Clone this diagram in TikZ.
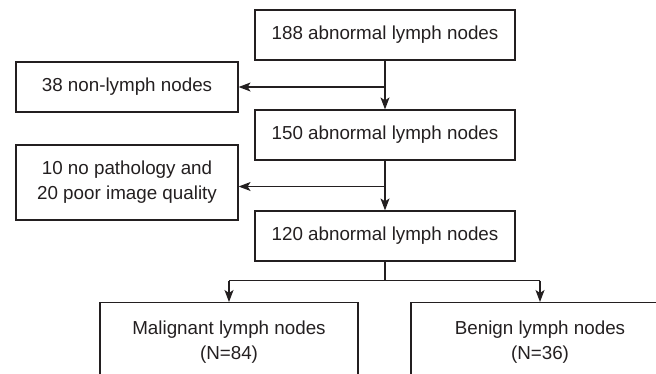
\documentclass[tikz,border=0pt]{standalone}
\usepackage{fontspec}
\setmainfont{Liberation Sans}
\usetikzlibrary{arrows.meta}
\definecolor{ink}{HTML}{231F20}
\begin{document}
\begin{tikzpicture}[x=1pt,y=-1pt,
  box/.style={draw=ink, line width=1.2pt, minimum height=50pt, inner xsep=0pt, inner ysep=0pt, align=center,
    font=\fontsize{18.8}{25}\selectfont, text=ink},
  arr/.style={draw=ink, line width=1.2pt, -{Stealth[length=12pt,width=9pt,inset=3pt]}},
  ln/.style={draw=ink, line width=1.2pt}]
\useasboundingbox (0,0) rectangle (656,373);
\clip (0,0) rectangle (656,373);
\node[box, minimum width=260pt] (b1) at (385,35) {188 abnormal lymph nodes};
\node[box, minimum width=222pt] (b38) at (127,87) {38 non-lymph nodes};
\node[box, minimum width=260pt] (b150) at (385,135) {150 abnormal lymph nodes};
\node[box, minimum width=222pt, minimum height=75pt] (b10) at (127,182.5) {\raisebox{-3pt}{\parbox{222pt}{\centering 10 no pathology and\\20 poor image quality}}};
\node[box, minimum width=260pt] (b120) at (385,236) {120 abnormal lymph nodes};
\node[box, minimum width=258pt, inner ysep=18pt, anchor=north] (mal) at (229,302) {Malignant lymph nodes\\(N=84)};
\node[box, minimum width=258pt, inner ysep=18pt, anchor=north] (ben) at (540,302) {Benign lymph nodes\\(N=36)};
\coordinate (t10) at ([yshift=-4pt]b10.east);
\draw[arr] (b1) -- (b150);
\draw[arr] (b1.south |- b38.east) -- (b38.east);
\draw[arr] (b150) -- (b120);
\draw[arr] (b150.south |- t10) -- (t10);
\draw[ln] (b120.south) -- ++(0,19) coordinate (split);
\draw[ln] (split -| mal) -- (split -| ben);
\draw[arr] (split -| mal) -- (mal.north);
\draw[arr] (split -| ben) -- (ben.north);
\end{tikzpicture}
\end{document}
